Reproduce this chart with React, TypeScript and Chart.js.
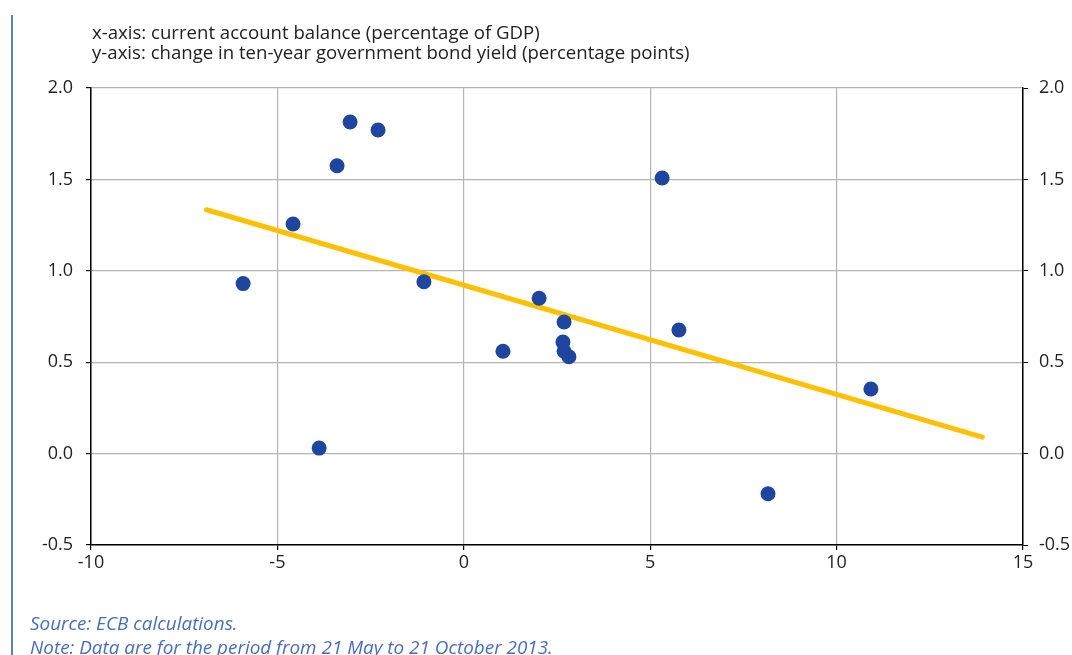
import React, { useEffect, useRef } from "react";
import { Chart, registerables } from "chart.js";

Chart.register(...registerables);

const headerLines = [
  "x-axis: current account balance (percentage of GDP)",
  "y-axis: change in ten-year government bond yield (percentage points)",
];
const footerLines = [
  "Source: ECB calculations.",
  "Note: Data are for the period from 21 May to 21 October 2013.",
];

const pointX = [-5.92, -4.58, -3.4, -3.05, -2.3, -3.88, -1.07, 1.05, 2.02, 2.69, 2.66, 2.69, 2.82, 5.32, 5.77, 8.16, 10.92];
const pointY = [0.93, 1.256, 1.575, 1.814, 1.77, 0.03, 0.94, 0.56, 0.85, 0.72, 0.61, 0.56, 0.53, 1.508, 0.676, -0.22, 0.353];

const trendX = [-6.9, 13.91];
const trendY = [1.334, 0.09];

const xTicks = [-10, -5, 0, 5, 10, 15];
const yTicks = [-0.5, 0, 0.5, 1.0, 1.5, 2.0];

const FONT = "'Open Sans', 'Noto Sans', sans-serif";

export default function App() {
  const canvasRef = useRef<HTMLCanvasElement | null>(null);

  useEffect(() => {
    document.body.style.margin = "0";
    const canvas = canvasRef.current;
    if (!canvas) return;
    const tickFont = { family: FONT, size: 18 };
    const chart = new Chart(canvas, {
      type: "scatter",
      data: {
        datasets: [
          {
            label: "points",
            data: pointX.map((x, i) => ({ x, y: pointY[i] })),
            backgroundColor: "#1E46A0",
            borderWidth: 0,
            pointRadius: 7.5,
            pointHoverRadius: 7.5,
            order: 1,
          },
          {
            label: "trend",
            type: "line",
            data: trendX.map((x, i) => ({ x, y: trendY[i] })),
            borderColor: "#FFC000",
            borderWidth: 5,
            borderCapStyle: "round",
            pointRadius: 0,
            showLine: true,
            fill: false,
            order: 2,
          } as any,
        ],
      },
      options: {
        responsive: false,
        animation: false,
        events: [],
        layout: { padding: { top: 88, left: 0, right: 0, bottom: 0 } },
        plugins: { legend: { display: false }, tooltip: { enabled: false } },
        scales: {
          x: {
            type: "linear",
            position: "bottom",
            min: -10,
            max: 15,
            afterBuildTicks: (s: any) => {
              s.ticks = xTicks.map((v) => ({ value: v }));
            },
            afterFit: (s: any) => {
              s.height = 110;
            },
            ticks: {
              font: tickFont,
              color: "#222",
              padding: 2,
              maxRotation: 0,
              callback: (v: any) => String(v),
            },
            grid: { color: "#B4B4B4", lineWidth: 1.2, tickColor: "#000", tickLength: 5 },
            border: { display: true, color: "#000", width: 1.5 },
          },
          y: {
            type: "linear",
            position: "left",
            min: -0.5,
            max: 2,
            afterBuildTicks: (s: any) => {
              s.ticks = yTicks.map((v) => ({ value: v }));
            },
            afterFit: (s: any) => {
              s.width = 91;
            },
            ticks: {
              font: tickFont,
              color: "#222",
              padding: 13,
              callback: (v: any) => Number(v).toFixed(1),
            },
            grid: { color: "#B4B4B4", lineWidth: 1.2, tickColor: "#000", tickLength: 5 },
            border: { display: true, color: "#000", width: 1.5 },
          },
          y2: {
            type: "linear",
            position: "right",
            min: -0.5,
            max: 2,
            afterBuildTicks: (s: any) => {
              s.ticks = yTicks.map((v) => ({ value: v }));
            },
            afterFit: (s: any) => {
              s.width = 49;
            },
            ticks: {
              font: tickFont,
              color: "#222",
              padding: 11,
              callback: (v: any) => Number(v).toFixed(1),
            },
            grid: { drawOnChartArea: false, tickColor: "#000", tickLength: 5 },
            border: { display: true, color: "#000", width: 1.5 },
          },
        },
      },
    });
    return () => chart.destroy();
  }, []);

  return (
    <div style={{ position: "relative", width: 1072, height: 655, overflow: "hidden", background: "#fff" }}>
      <canvas ref={canvasRef} width={1072} height={655} style={{ position: "absolute", left: 0, top: 0 }} />
      <div style={{ position: "absolute", left: 11, top: 15, width: 1.5, height: 640, background: "#5B7FC7" }} />
      <div
        style={{
          position: "absolute",
          left: 92,
          top: 22,
          fontFamily: FONT,
          fontSize: 18.6,
          lineHeight: "20px",
          color: "#222",
          whiteSpace: "nowrap",
        }}
      >
        {headerLines.map((t, i) => (
          <div key={i}>{t}</div>
        ))}
      </div>
      <div
        style={{
          position: "absolute",
          left: 30,
          top: 610.5,
          fontFamily: FONT,
          fontSize: 18.9,
          fontStyle: "italic",
          lineHeight: "24px",
          color: "#4A6DBA",
          whiteSpace: "nowrap",
        }}
      >
        {footerLines.map((t, i) => (
          <div key={i}>{t}</div>
        ))}
      </div>
    </div>
  );
}
